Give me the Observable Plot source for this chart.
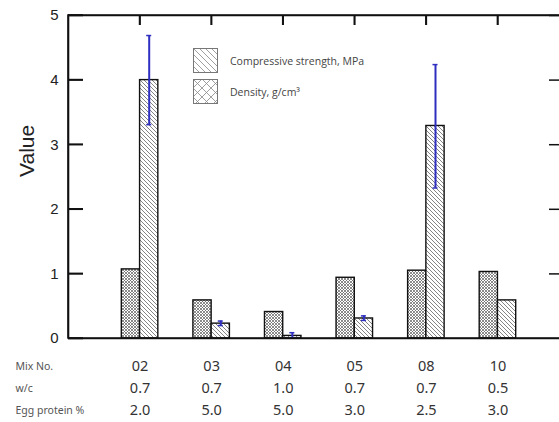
<!DOCTYPE html>
<html><head><meta charset="utf-8">
<script src="https://cdn.jsdelivr.net/npm/d3@7"></script>
<script src="https://cdn.jsdelivr.net/npm/@observablehq/plot@0.6"></script>
<style>
body{margin:0;background:#fff;position:relative;}
.leg{position:absolute;left:193px;font-family:"Open Sans",sans-serif;font-size:10.5px;color:#444;display:flex;align-items:center;}
.leg svg{margin-right:12px;}
#overlay{position:absolute;left:0;top:0;z-index:10;pointer-events:none;}
</style></head><body>
<svg width="0" height="0" style="position:absolute">
<defs>
<pattern id="diag" patternUnits="userSpaceOnUse" width="4" height="4"><rect width="4" height="4" fill="#fff"/><path d="M-1,-1L5,5M3,-1L5,1M-1,3L1,5" stroke="#666" stroke-width="0.8"/></pattern>
<pattern id="xhatch" patternUnits="userSpaceOnUse" width="3" height="3"><rect width="3" height="3" fill="#fff"/><path d="M0,0L3,3M3,0L0,3" stroke="#666" stroke-width="0.75"/></pattern>
<pattern id="diagL" patternUnits="userSpaceOnUse" width="6" height="6"><rect width="6" height="6" fill="#fff"/><path d="M-1,-1L7,7M5,-1L7,1M-1,5L1,7" stroke="#888" stroke-width="0.8"/></pattern>
<pattern id="xhatchL" patternUnits="userSpaceOnUse" width="9" height="9"><rect width="9" height="9" fill="#fff"/><path d="M0,0L9,9M9,0L0,9" stroke="#888" stroke-width="0.8"/></pattern>
</defs></svg>
<script>
const mixes = ["02","03","04","05","08","10"];
const wc = ["0.7","0.7","1.0","0.7","0.7","0.5"];
const egg = ["2.0","5.0","5.0","3.0","2.5","3.0"];
const density = [1.07,0.59,0.41,0.94,1.05,1.03];
const strength = [4.0,0.23,0.04,0.31,3.29,0.59];
const errLow = [3.31,0.20,0.01,0.28,2.33,null];
const errHigh = [4.69,0.27,0.09,0.35,4.24,null];
const yTicks = [0,1,2,3,4,5];
const xTicks = [0,1,2,3,4,5];
const rowLabels = ["Mix No.","w/c","Egg protein %"];
const legendLabels = ["Compressive strength, MPa","Density,  g/cm\u00b3"];

const rows = mixes.map((m,i)=>({i, m, wc: wc[i], egg: egg[i], density: density[i], strength: strength[i], lo: errLow[i], hi: errHigh[i]}));
const errs = rows.filter(d=>d.lo!=null);
const bw = 0.255;
const font = "Liberation Sans, Arial, sans-serif";
const xMax = 5.86;
const xPerPx = (xMax + 1)/491, yPerPx = 5/323;
const rowFont = "Noto Sans, sans-serif";

const svg = Plot.plot({
  width: 559, height: 422,
  marginLeft: 68, marginRight: 0, marginTop: 15, marginBottom: 84,
  x: {domain: [-1, xMax], axis: null},
  y: {domain: [0, 5], axis: null},
  style: {fontFamily: font, background: "#fff"},
  marks: [
    Plot.rectY(rows, {x1: d=>d.i-bw, x2: d=>d.i, y: "density", fill: "url(#xhatch)", stroke: "#111", strokeWidth: 1.4}),
    Plot.rectY(rows, {x1: d=>d.i, x2: d=>d.i+bw, y: "strength", fill: "url(#diag)", stroke: "#111", strokeWidth: 1.4}),
    Plot.ruleX(errs, {x: d=>d.i+bw/2, y1: "lo", y2: "hi", stroke: "#2e2ec0", strokeWidth: 2}),
    Plot.ruleY(errs, {x1: d=>d.i+bw/2-0.035, x2: d=>d.i+bw/2+0.035, y: "lo", stroke: "#2e2ec0", strokeWidth: 1.5}),
    Plot.ruleY(errs, {x1: d=>d.i+bw/2-0.035, x2: d=>d.i+bw/2+0.035, y: "hi", stroke: "#2e2ec0", strokeWidth: 1.5}),
    Plot.text(yTicks, {y: d=>d, frameAnchor: "left", text: d=>String(d), dx: -10, textAnchor: "end", fontSize: 15, fill: "#222"}),
    Plot.text(["Value"], {frameAnchor: "left", dx: -41, rotate: -90, fontSize: 21, fill: "#222", fontFamily: "Liberation Sans Narrow, Liberation Sans, sans-serif"}),
    Plot.text(rows, {x: "i", y: 0, text: "m", dy: 28, fontSize: 14.5, fill: "#333", fontFamily: rowFont}),
    Plot.text(rows, {x: "i", y: 0, text: "wc", dy: 50, fontSize: 14.5, fill: "#333", fontFamily: rowFont}),
    Plot.text(rows, {x: "i", y: 0, text: "egg", dy: 72, fontSize: 14.5, fill: "#333", fontFamily: rowFont}),
    ...rowLabels.map((t,k)=>Plot.text([t], {x: -1, y: 0, dx: -53, dy: 28+22*k, textAnchor: "start", fontSize: 10.5, fill: "#555", fontFamily: rowFont})),
    Plot.ruleX([-1], {y1: 0, y2: 5, stroke: "#111", strokeWidth: 1.6}),
    Plot.ruleY([5, 0], {x1: -1, x2: xMax, stroke: "#111", strokeWidth: 1.6}),
    Plot.ruleY(yTicks, {y: d=>d, x1: -1, x2: -1 + 15*xPerPx, stroke: "#111", strokeWidth: 1.5}),
    Plot.ruleY(yTicks.filter(d=>d>0), {y: d=>d, x1: xMax - 10*xPerPx, x2: xMax, stroke: "#111", strokeWidth: 1.5}),
    Plot.ruleX(xTicks, {x: d=>d, y1: 5, y2: 5 - 10*yPerPx, stroke: "#111", strokeWidth: 1.5})
  ]
});
document.body.appendChild(svg);

// Axis frame overlay drawn from the chart's own scales (kept on top)
const sx = svg.scale("x"), sy = svg.scale("y");
const X = v => sx.apply(v), Y = v => sy.apply(v);
const ov = d3.select(document.body).append("svg").attr("id","overlay").attr("width",559).attr("height",422);
const g = ov.append("g").attr("stroke","#111").attr("stroke-width",1.6).attr("fill","none");
g.append("line").attr("x1",X(-1)).attr("x2",X(-1)).attr("y1",Y(0)+0.8).attr("y2",Y(5)-0.8);
g.append("line").attr("x1",X(-1)).attr("x2",X(xMax)).attr("y1",Y(5)).attr("y2",Y(5));
g.append("line").attr("x1",X(-1)).attr("x2",X(xMax)).attr("y1",Y(0)).attr("y2",Y(0));
yTicks.forEach(v => g.append("line").attr("x1",X(-1)).attr("x2",X(-1)+15).attr("y1",Y(v)).attr("y2",Y(v)));
xTicks.forEach(v => g.append("line").attr("x1",X(v)).attr("x2",X(v)).attr("y1",Y(5)).attr("y2",Y(5)+10));

[["diagL", 48], ["xhatchL", 79]].forEach(([pat, top], k) => {
  const div = document.createElement("div");
  div.className = "leg";
  div.style.top = top + "px";
  div.innerHTML = `<svg width="25" height="25"><rect x="0.5" y="0.5" width="24" height="24" fill="url(#${pat})" stroke="#777"/></svg><span>${legendLabels[k]}</span>`;
  document.body.appendChild(div);
});
</script></body></html>
